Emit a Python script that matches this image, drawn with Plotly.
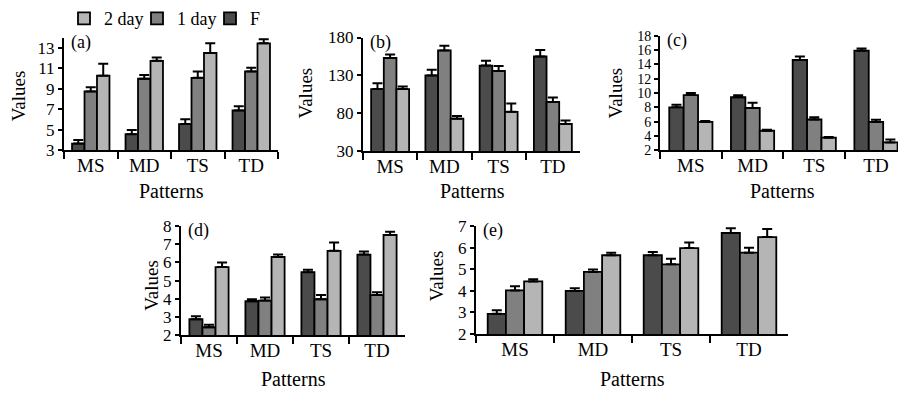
import plotly.graph_objects as go

categories = ["MS", "MD", "TS", "TD"]
series_names = ["F", "1 day", "2 day"]
colors = ["#4b4b4b", "#808080", "#b5b5b5"]

# panel (a)
a_F = [3.65, 4.57, 5.56, 6.89]
a_F_err = [0.35, 0.41, 0.46, 0.40]
a_1 = [8.74, 9.98, 10.07, 10.69]
a_1_err = [0.40, 0.37, 0.62, 0.37]
a_2 = [10.28, 11.73, 12.5, 13.43]
a_2_err = [1.15, 0.31, 0.93, 0.40]

# panel (b)
b_F = [112, 130, 143, 155]
b_F_err = [7.6, 7.5, 6.3, 8.7]
b_1 = [153, 163, 136, 95]
b_1_err = [4.6, 6.3, 6.6, 5.8]
b_2 = [112, 73, 82, 66]
b_2_err = [3.4, 3.4, 10.9, 4.6]

# panel (c)
c_F = [8.0, 9.4, 14.6, 15.9]
c_F_err = [0.36, 0.27, 0.5, 0.3]
c_1 = [9.7, 7.9, 6.3, 5.96]
c_1_err = [0.3, 0.75, 0.3, 0.31]
c_2 = [5.96, 4.73, 3.76, 3.1]
c_2_err = [0.14, 0.13, 0.09, 0.4]

# panel (d)
d_F = [2.87, 3.86, 5.46, 6.43]
d_F_err = [0.17, 0.11, 0.14, 0.17]
d_1 = [2.43, 3.9, 3.97, 4.2]
d_1_err = [0.14, 0.17, 0.23, 0.15]
d_2 = [5.74, 6.3, 6.64, 7.51]
d_2_err = [0.26, 0.13, 0.46, 0.18]

# panel (e)
e_F = [2.94, 4.0, 5.65, 6.68]
e_F_err = [0.16, 0.12, 0.15, 0.22]
e_1 = [4.02, 4.88, 5.23, 5.77]
e_1_err = [0.2, 0.11, 0.26, 0.23]
e_2 = [4.44, 5.65, 5.98, 6.49]
e_2_err = [0.1, 0.12, 0.26, 0.37]

a_ticks = [3, 5, 7, 9, 11, 13]
b_ticks = [30, 80, 130, 180]
c_ticks = [2, 4, 6, 8, 10, 12, 14, 16, 18]
d_ticks = [2, 3, 4, 5, 6, 7, 8]
e_ticks = [2, 3, 4, 5, 6, 7]

W, H = 898, 400
FONT = "Liberation Serif"

panels = [
    ("(a)", [(a_F, a_F_err), (a_1, a_1_err), (a_2, a_2_err)], a_ticks, [3, 14], (64, 278), (28, 147), [-0.5, 3.5], 17),
    ("(b)", [(b_F, b_F_err), (b_1, b_1_err), (b_2, b_2_err)], b_ticks, [30, 180], (363, 580), (28, 148), [-0.5, 3.5], 17),
    ("(c)", [(c_F, c_F_err), (c_1, c_1_err), (c_2, c_2_err)], c_ticks, [2, 18], (660, 898), (26, 147), [-0.5, 3.357], 14),
    ("(d)", [(d_F, d_F_err), (d_1, d_1_err), (d_2, d_2_err)], d_ticks, [2, 8], (181, 405), (227, 342), [-0.5, 3.5], 17),
    ("(e)", [(e_F, e_F_err), (e_1, e_1_err), (e_2, e_2_err)], e_ticks, [2, 7], (476, 788), (227, 341), [-0.5, 3.5], 17),
]

ytitle_pos = [(18, 90), (305, 87), (615, 87), (152, 290), (436, 280)]
xtitle_pos = [(171, 190), (472, 190), (782, 190), (293, 388), (632, 388)]

fig = go.Figure()
layout = dict(
    width=W, height=H, margin=dict(l=0, r=0, t=0, b=0),
    paper_bgcolor="white", plot_bgcolor="white",
    barmode="group", bargap=0.3, bargroupgap=0,
    font=dict(family=FONT, size=18, color="black"),
    showlegend=True,
    legend=dict(orientation="h", x=64 / W, y=1 - 8 / H, xanchor="left", yanchor="middle",
                traceorder="reversed", font=dict(size=18), itemwidth=30,
                entrywidth=28, entrywidthmode="pixels",
                bgcolor="rgba(0,0,0,0)"),
)
annotations = []

for i, (lab, data, ticks, yr, (x0, x1), (yt, yb), xr, yfs) in enumerate(panels):
    n = i + 1
    xa = "x" if n == 1 else f"x{n}"
    ya = "y" if n == 1 else f"y{n}"
    for j, (vals, err) in enumerate(data):
        fig.add_trace(go.Bar(
            x=categories, y=vals, name=series_names[j],
            xaxis=xa, yaxis=ya,
            marker=dict(color=colors[j], line=dict(color="black", width=1.8)),
            error_y=dict(type="data", symmetric=False, array=err,
                         arrayminus=[0] * len(err), color="black",
                         thickness=2, width=5),
            showlegend=(n == 1),
            legendgroup=series_names[j],
        ))
    layout[f"xaxis{n}"] = dict(
        domain=[x0 / W, x1 / W], anchor=ya, type="category", range=xr,
        showline=True, linewidth=2, linecolor="black",
        ticks="outside", tickson="boundaries", ticklen=7, tickwidth=2,
        tickcolor="black", showgrid=False, zeroline=False,
        ticklabelstandoff=-3,
        tickfont=dict(size=19, family=FONT),
    )
    layout[f"yaxis{n}"] = dict(
        domain=[1 - yb / H, 1 - yt / H], anchor=xa, range=yr,
        tickvals=ticks, showline=True, linewidth=2, linecolor="black",
        ticks="outside", ticklen=4, tickwidth=2, tickcolor="black",
        showgrid=False, zeroline=False,
        tickfont=dict(size=yfs, family=FONT),
    )
    annotations.append(dict(text=lab, x=(x0 + 5) / W, y=1 - (yt + 5) / H,
                            xref="paper", yref="paper", xanchor="left", yanchor="middle",
                            showarrow=False, font=dict(size=18, family=FONT)))
    tx, ty = ytitle_pos[i]
    annotations.append(dict(text="Values", x=tx / W, y=1 - ty / H, xref="paper", yref="paper",
                            textangle=-90, showarrow=False, xanchor="center", yanchor="middle",
                            font=dict(size=19, family=FONT)))
    px_, py_ = xtitle_pos[i]
    annotations.append(dict(text="Patterns", x=px_ / W, y=1 - py_ / H, xref="paper", yref="paper",
                            showarrow=False, xanchor="center", yanchor="middle",
                            font=dict(size=20, family=FONT)))

layout["annotations"] = annotations
fig.update_layout(**layout)
fig.write_html("out.html", config={"displayModeBar": False},
               post_script="document.body.style.margin='0';")
